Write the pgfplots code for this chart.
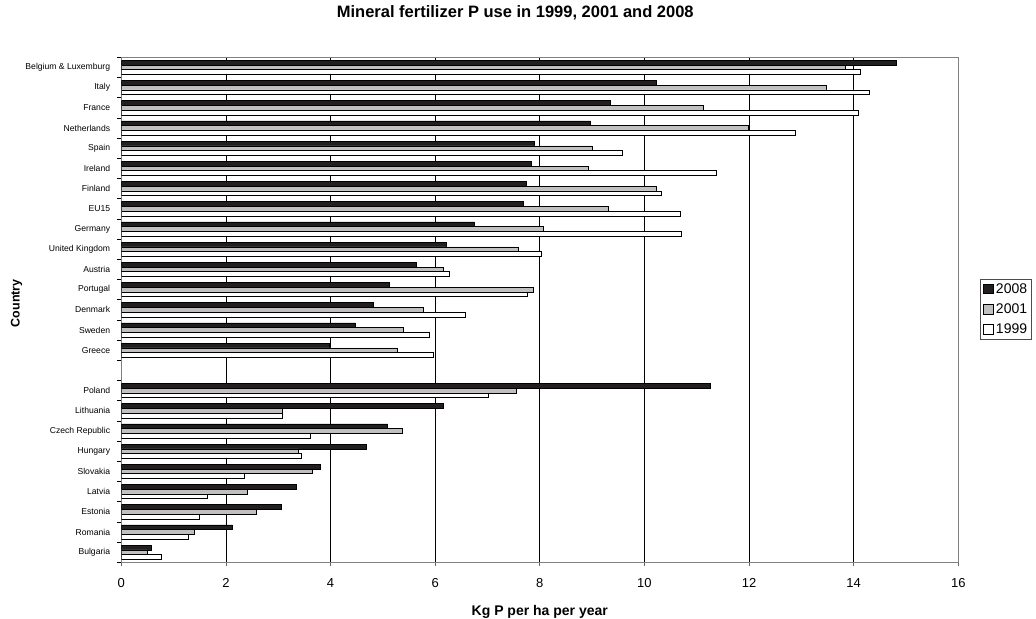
\documentclass[border=0pt]{standalone}
\usepackage{pgfplots}
\usepackage{pgfplotstable}
\pgfplotsset{compat=1.18}
\usepackage{fontspec}
\setmainfont{Liberation Sans}
\definecolor{barGray}{HTML}{C0C0C0}
\definecolor{barDark}{HTML}{231F20}

% kg P per ha per year; row 15 is the empty gap between EU15 and new members
\pgfplotstableread{
y   v2008 v2001 v1999
0   14.81 13.84 14.12
1   10.23 13.48 14.30
2   9.34  11.13 14.09
3   8.97  11.99 12.89
4   7.90  9.01  9.57
5   7.83  8.92  11.38
6   7.75  10.23 10.33
7   7.69  9.31  10.68
8   6.74  8.07  10.71
9   6.22  7.58  8.03
10  5.63  6.16  6.27
11  5.12  7.88  7.76
12  4.82  5.77  6.58
13  4.48  5.39  5.88
14  3.97  5.27  5.97
16  11.26 7.55  7.02
17  6.15  3.08  3.08
18  5.09  5.37  3.61
19  4.69  3.39  3.44
20  3.80  3.65  2.35
21  3.35  2.41  1.65
22  3.05  2.58  1.49
23  2.13  1.40  1.29
24  0.57  0.50  0.77
}\fertdata

\begin{document}
\begin{tikzpicture}
\useasboundingbox (-121.3bp,-56.7bp) rectangle (914.7bp,562.3bp);
\begin{axis}[
  at={(0,0)}, anchor=south west,
  scale only axis,
  width=837bp, height=505bp,
  xbar, bar width=4.7bp,
  xmin=0, xmax=16,
  ymin=-0.5, ymax=24.5,
  y dir=reverse,
  xtick={0,2,...,16},
  ytick={0,...,14,16,17,...,24},
  yticklabels={Belgium \& Luxemburg,Italy,France,Netherlands,Spain,Ireland,Finland,EU15,Germany,United Kingdom,Austria,Portugal,Denmark,Sweden,Greece,Poland,Lithuania,Czech Republic,Hungary,Slovakia,Latvia,Estonia,Romania,Bulgaria},
  minor ytick={-0.5,0.5,...,24.5},
  xtick pos=lower, ytick pos=left,
  tick align=outside,
  major tick length=4bp, minor tick length=4bp,
  major y tick style={draw=none},
  minor y tick style={black, line width=0.6bp},
  major x tick style={black!60, line width=0.8bp},
  xmajorgrids,
  grid style={black, line width=0.7bp},
  axis line style={draw=black!50, line width=0.8bp},
  /pgf/number format/assume math mode=true,
  xticklabel style={font=\fontsize{13bp}{15bp}\selectfont, anchor=base, yshift=-20.7bp},
  yticklabel style={font=\fontsize{8.6bp}{10bp}\selectfont, anchor=east, inner sep=0pt, xshift=-7bp},
  title={\textbf{Mineral fertilizer P use in 1999, 2001 and 2008}},
  title style={at={(axis description cs:0.4707,1)}, anchor=base, yshift=34bp, font=\fontsize{16.5bp}{19bp}\selectfont, inner sep=0pt},
  xlabel={\textbf{Kg P per ha per year}},
  xlabel style={at={(axis description cs:0.5,0)}, anchor=base, yshift=-52.7bp, font=\fontsize{14bp}{16bp}\selectfont, inner sep=0pt},
  ylabel={\textbf{Country}},
  ylabel style={at={(axis description cs:-0.1215,0.513)}, rotate=0, anchor=base, font=\fontsize{12.5bp}{14bp}\selectfont, inner sep=0pt},
  legend style={at={(axis description cs:1.026,0.561)}, anchor=north west,
    draw=black!70, line width=0.6bp, inner sep=3bp, row sep=7bp,
    font=\fontsize{14bp}{16bp}\selectfont,
    nodes={inner sep=1bp, anchor=west},
    /tikz/every odd column/.append style={column sep=1.5bp}},
  legend cell align=left,
  legend image code/.code={\draw[#1, line width=0.6bp] (0bp,-4.7bp) rectangle (9.5bp,4.7bp);},
]
\addplot[fill=barDark, draw=black, line width=0.6bp, bar shift=4.7bp] table[x=v2008, y=y] {\fertdata};
\addplot[fill=barGray, draw=black, line width=0.6bp, bar shift=0bp] table[x=v2001, y=y] {\fertdata};
\addplot[fill=white, draw=black, line width=0.6bp, bar shift=-4.7bp] table[x=v1999, y=y] {\fertdata};
\legend{2008,2001,1999}
\end{axis}
\end{tikzpicture}
\end{document}
